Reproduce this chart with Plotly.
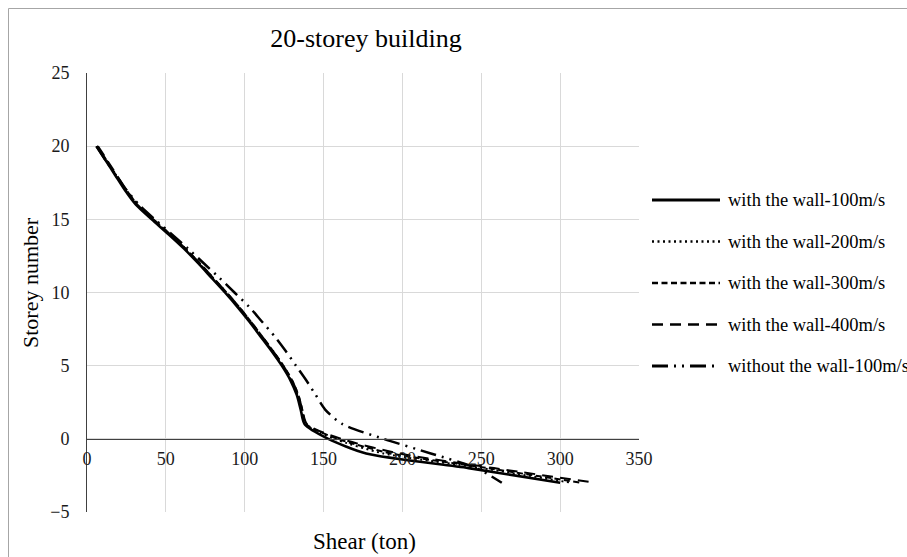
import plotly.graph_objects as go

# ---------------- data ----------------
storeys = list(range(20, -4, -1))  # 20 ... -3

wall_100 = [6, 12, 18, 24, 31, 41, 51.5, 61.5, 70.5, 79, 87.5, 95.5, 103, 110,
            117, 123.5, 129, 133, 135.5, 138, 153, 177, 242, 300]
wall_200 = [6.5, 12.5, 18.5, 24.5, 31.5, 41.5, 52, 62, 71, 79.5, 88, 96, 103.5,
            110.5, 117.5, 124, 129.5, 133.5, 136, 138.5, 157, 188, 250, 307]
wall_300 = [6.5, 12.5, 18.5, 25, 32, 42, 52.5, 62.5, 71.5, 80, 88.5, 96.5, 104,
            111, 118, 124.5, 130, 134, 136.5, 139, 159, 193, 254, 313]
wall_400 = [7, 13, 19, 25, 32, 42, 52.5, 62.5, 71.5, 80, 88.5, 96.5, 104, 111,
            118, 124.5, 130, 134, 136.5, 139.5, 161, 198, 258, 322]
no_wall_100 = [6, 12, 18.5, 25, 33, 43, 53.5, 64, 74, 84, 93.5, 103, 111, 119,
               126, 132.5, 139, 145, 151, 162, 188, 218, 247, 263]

series_names = ["with the wall-100m/s", "with the wall-200m/s", "with the wall-300m/s",
                "with the wall-400m/s", "without the wall-100m/s"]
series_values = [wall_100, wall_200, wall_300, wall_400, no_wall_100]

x_ticks = [0, 50, 100, 150, 200, 250, 300, 350]
y_ticks = [-5, 0, 5, 10, 15, 20, 25]

title_text = "20-storey building"
x_title = "Shear (ton)"
y_title = "Storey number"

# ---------------- styles ----------------
dashes = ["solid", "2px,3.5px", "6px,3.5px", "11px,7px", "16px,6px,2px,6px,2px,6px"]
widths = [2.6, 2, 2, 2, 2.5]
FONT = "Liberation Serif, Times New Roman, serif"

W, H = 907, 557
L, T, R, B = 87, 73, 907 - 639, 45
pw, ph = W - L - R, H - T - B


def px2paper(px, py):
    """screen pixel -> paper coords"""
    return (px - L) / pw, (H - B - py) / ph


fig = go.Figure()
for name, vals, d, w in zip(series_names, series_values, dashes, widths):
    fig.add_trace(go.Scatter(
        x=vals, y=storeys, mode="lines", name=name,
        line=dict(color="black", width=w, dash=d, shape="spline", smoothing=0.7),
        showlegend=False, hoverinfo="x+y+name"))

shapes = []
annotations = []

# manual legend
leg_y = [200, 241.5, 283, 324.5, 366]
for name, d, w, py in zip(series_names, dashes, widths, leg_y):
    x0, yy = px2paper(652, py)
    x1, _ = px2paper(720, py)
    shapes.append(dict(type="line", xref="paper", yref="paper", x0=x0, x1=x1, y0=yy, y1=yy,
                       line=dict(color="black", width=w + 0.4, dash=d)))
    tx, _ = px2paper(726, py)
    annotations.append(dict(text=name, xref="paper", yref="paper", x=tx, y=yy,
                            xanchor="left", yanchor="middle", showarrow=False,
                            font=dict(family=FONT, size=18.5, color="black")))

# chart-area border (left and top edges visible)
bx0, by1 = px2paper(8.5, 8.5)
bx1, by0 = px2paper(1000, 700)
shapes.append(dict(type="line", xref="paper", yref="paper", x0=bx0, x1=bx0, y0=by0, y1=by1,
                   line=dict(color="#a6a6a6", width=1), layer="below"))
shapes.append(dict(type="line", xref="paper", yref="paper", x0=bx0, x1=bx1, y0=by1, y1=by1,
                   line=dict(color="#a6a6a6", width=1), layer="below"))

# axis titles
ax, ay = px2paper(364, 541)
annotations.append(dict(text=x_title, xref="paper", yref="paper", x=ax, y=ay,
                        xanchor="center", yanchor="middle", showarrow=False,
                        font=dict(family=FONT, size=23, color="black")))
yx, yy_ = px2paper(30, 283)
annotations.append(dict(text=y_title, xref="paper", yref="paper", x=yx, y=yy_,
                        xanchor="center", yanchor="middle", showarrow=False, textangle=-90,
                        font=dict(family=FONT, size=22, color="black")))

fig.update_layout(
    width=W, height=H,
    margin=dict(l=L, r=R, t=T, b=B),
    paper_bgcolor="white", plot_bgcolor="white",
    title=dict(text=title_text, x=366 / W, xanchor="center",
               y=1 - 38 / H, yanchor="middle",
               font=dict(family=FONT, size=26, color="black")),
    xaxis=dict(range=[0, 350], tickvals=x_ticks, showgrid=True, gridcolor="#d9d9d9", gridwidth=1,
               zeroline=False, showline=True, linecolor="#404040", linewidth=1,
               anchor="free", position=5 / 30, ticks="outside", ticklen=4,
               tickcolor="rgba(0,0,0,0)",
               tickfont=dict(family=FONT, size=18, color="#1a1a1a")),
    yaxis=dict(range=[-5, 25], tickvals=y_ticks, showgrid=True, gridcolor="#d9d9d9", gridwidth=1,
               zeroline=False, showline=True, linecolor="#404040", linewidth=1,
               ticks="outside", ticklen=13, tickcolor="rgba(0,0,0,0)",
               tickfont=dict(family=FONT, size=18, color="#1a1a1a")),
    shapes=shapes, annotations=annotations,
    showlegend=False,
)

fig.write_html(
    "out.html",
    config={"displayModeBar": False},
    post_script="document.body.style.margin='0';document.body.style.overflow='hidden';",
)
